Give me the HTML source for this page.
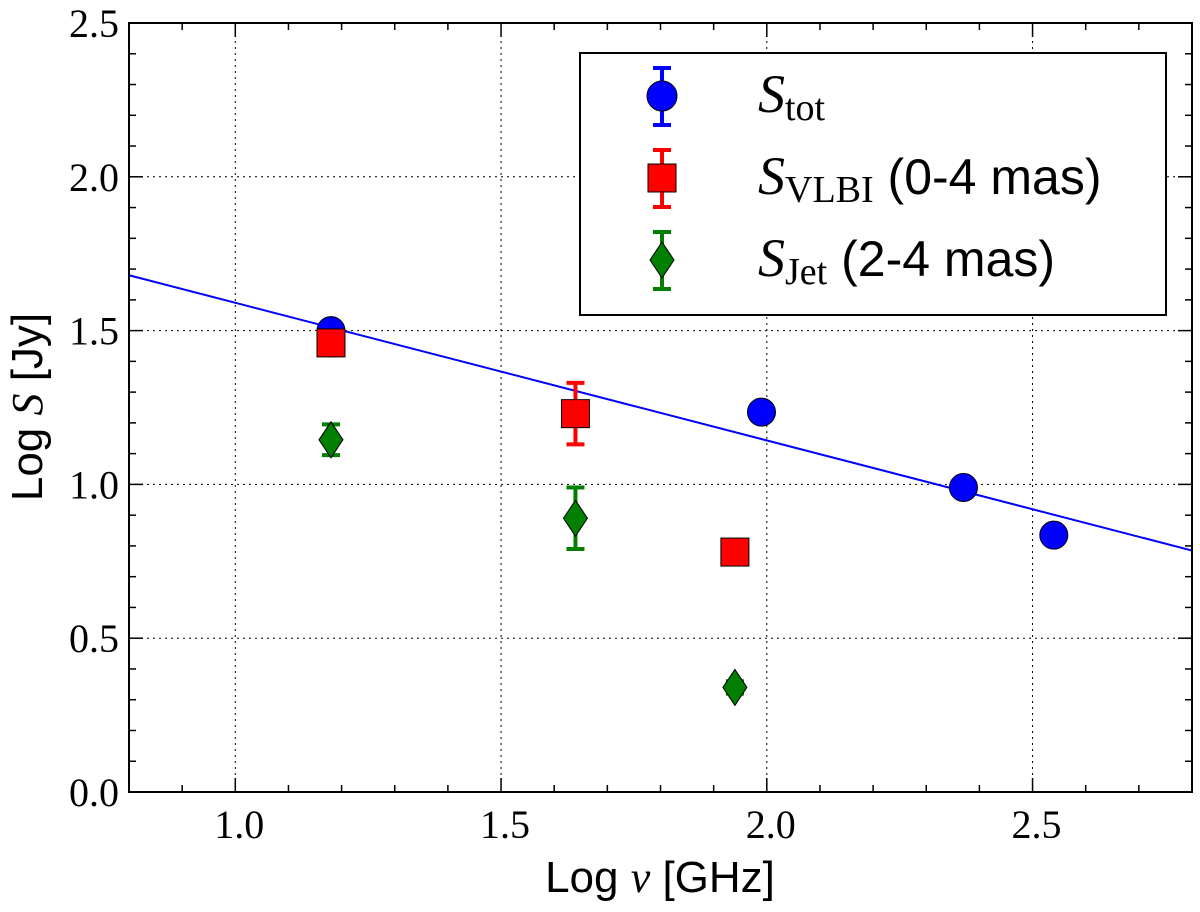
<!DOCTYPE html>
<html><head><meta charset="utf-8"><style>
html,body{margin:0;padding:0;background:#fff;}
svg{display:block;}
text{font-family:"Liberation Serif",serif;}
</style></head><body>
<svg id="chart" width="1200" height="912" viewBox="0 0 1200 912" xmlns="http://www.w3.org/2000/svg">
<g id="grid"></g>
<g id="ticks"></g>
<g id="fit"></g>
<g id="marks"></g>
<rect x="129" y="23" width="1063" height="769" fill="none" stroke="#000" stroke-width="2"/>
<text x="660" y="892" font-size="44" text-anchor="middle"><tspan font-family="Liberation Sans">Log </tspan><tspan font-style="italic">ν</tspan><tspan font-family="Liberation Sans"> [GHz]</tspan></text>
<text transform="translate(42,407) rotate(-90)" font-size="44" text-anchor="middle"><tspan font-family="Liberation Sans">Log </tspan><tspan font-style="italic">S</tspan><tspan font-family="Liberation Sans"> [Jy]</tspan></text>
<g>
<rect x="580" y="53" width="586" height="262" fill="#fff" stroke="#000" stroke-width="2"/>
<g>
<line x1="662" y1="68" x2="662" y2="125" stroke="#0000ff" stroke-width="4"/><line x1="653" y1="68" x2="671" y2="68" stroke="#0000ff" stroke-width="4"/><line x1="653" y1="125" x2="671" y2="125" stroke="#0000ff" stroke-width="4"/>
<circle cx="662" cy="96" r="15" fill="#0000ff" stroke="#000"/>
<text x="758" y="112" font-size="54" font-style="italic">S<tspan font-style="normal" font-size="38" dy="8">tot</tspan></text></g>
<g>
<line x1="662" y1="150" x2="662" y2="207" stroke="#ff0000" stroke-width="4"/><line x1="653" y1="150" x2="671" y2="150" stroke="#ff0000" stroke-width="4"/><line x1="653" y1="207" x2="671" y2="207" stroke="#ff0000" stroke-width="4"/>
<rect x="648" y="164" width="28" height="28" fill="#ff0000" stroke="#000"/>
<text x="758" y="194" font-size="54" font-style="italic">S<tspan font-style="normal" font-size="38" dy="8">VLBI</tspan><tspan font-style="normal" font-family="Liberation Sans" font-size="50" dy="-8"> (0-4 mas)</tspan></text></g>
<g>
<line x1="662" y1="232" x2="662" y2="289" stroke="#007f00" stroke-width="4"/><line x1="653" y1="232" x2="671" y2="232" stroke="#007f00" stroke-width="4"/><line x1="653" y1="289" x2="671" y2="289" stroke="#007f00" stroke-width="4"/>
<polygon points="662,242 674,260 662,278 650,260" fill="#007f00" stroke="#000"/>
<text x="758" y="276" font-size="54" font-style="italic">S<tspan font-style="normal" font-size="38" dy="8">Jet</tspan><tspan font-style="normal" font-family="Liberation Sans" font-size="50" dy="-8"> (2-4 mas)</tspan></text></g>
</g>
</svg>
<script>
const xTicks=[1.0,1.5,2.0,2.5];
const yTicks=[0.0,0.5,1.0,1.5,2.0,2.5];
const totX=[1.18,1.99,2.37,2.54];
const totY=[1.50,1.235,0.99,0.835];
const totErr=[0.02,0.02,0.02,0.02];
const vlbiX=[1.18,1.64,1.94];
const vlbiY=[1.46,1.23,0.78];
const vlbiErr=[0.04,0.10,0.02];
const jetX=[1.18,1.64,1.94];
const jetY=[1.145,0.89,0.34];
const jetErr=[0.05,0.10,0.02];
const fitX=[0.8,2.8];
const fitY=[1.68,0.785];
const L=129,R=1192,T=23,B=792;
const sx=v=>L+(v-0.8)/2.0*(R-L);
const sy=v=>B-v/2.5*(B-T);
const NS="http://www.w3.org/2000/svg";
function mk(tag,attrs,parent){const e=document.createElementNS(NS,tag);for(const k in attrs)e.setAttribute(k,attrs[k]);document.getElementById(parent).appendChild(e);return e;}
xTicks.forEach(v=>{
 const g=mk('line',{x1:sx(v),x2:sx(v),y1:T,y2:B,stroke:'#000','stroke-width':1,'stroke-dasharray':'2,4'},'grid');
 
 
 const t=mk('text',{x:sx(v)+4,y:B+46,'font-size':40,'text-anchor':'middle'},'ticks');t.textContent=v.toFixed(1);
 
 
});
yTicks.forEach(v=>{
 if(v>0&&v<2.5){const g=mk('line',{x1:L,x2:R,y1:sy(v),y2:sy(v),stroke:'#000','stroke-width':1,'stroke-dasharray':'2,4'},'grid');
 
 }
 const t=mk('text',{x:L-10,y:sy(v)+14,'font-size':40,'text-anchor':'end'},'ticks');t.textContent=v.toFixed(1);
 
 
});
for(let i=9;i<=27;i++){const v=i/10;const big=(i%5===0);const len=big?14:7;
 mk('line',{x1:sx(v),x2:sx(v),y1:B,y2:B-len,stroke:'#000','stroke-width':1.5},'ticks');
 mk('line',{x1:sx(v),x2:sx(v),y1:T,y2:T+len,stroke:'#000','stroke-width':1.5},'ticks');}
for(let i=1;i<25;i++){const v=i/10;const big=(i%5===0);const len=big?14:7;
 mk('line',{x1:L,x2:L+len,y1:sy(v),y2:sy(v),stroke:'#000','stroke-width':1.5},'ticks');
 mk('line',{x1:R,x2:R-len,y1:sy(v),y2:sy(v),stroke:'#000','stroke-width':1.5},'ticks');}
const fl=mk('line',{x1:sx(fitX[0]),y1:sy(fitY[0]),x2:sx(fitX[1]),y2:sy(fitY[1]),stroke:'#0000ff','stroke-width':2},'fit');


function err(x,y,e,c){const X=sx(x);
 mk('line',{x1:X,x2:X,y1:sy(y+e),y2:sy(y-e),stroke:c,'stroke-width':4},'marks');
 mk('line',{x1:X-9,x2:X+9,y1:sy(y+e),y2:sy(y+e),stroke:c,'stroke-width':4},'marks');
 mk('line',{x1:X-9,x2:X+9,y1:sy(y-e),y2:sy(y-e),stroke:c,'stroke-width':4},'marks');}
totX.forEach((x,i)=>{err(x,totY[i],totErr[i],'#0000ff');
 const c=mk('circle',{cx:sx(x),cy:sy(totY[i]),r:14,fill:'#0000ff',stroke:'#000'},'marks');
 
 });
vlbiX.forEach((x,i)=>{err(x,vlbiY[i],vlbiErr[i],'#ff0000');
 const r=mk('rect',{x:sx(x)-14,y:sy(vlbiY[i])-14,width:28,height:28,fill:'#ff0000',stroke:'#000'},'marks');
 
 });
jetX.forEach((x,i)=>{err(x,jetY[i],jetErr[i],'#007f00');
 const X=sx(x),Y=sy(jetY[i]);
 const p=mk('polygon',{points:`${X},${Y-18} ${X+12},${Y} ${X},${Y+18} ${X-12},${Y}`,fill:'#007f00',stroke:'#000'},'marks');
 
 });
</script>
</body></html>
